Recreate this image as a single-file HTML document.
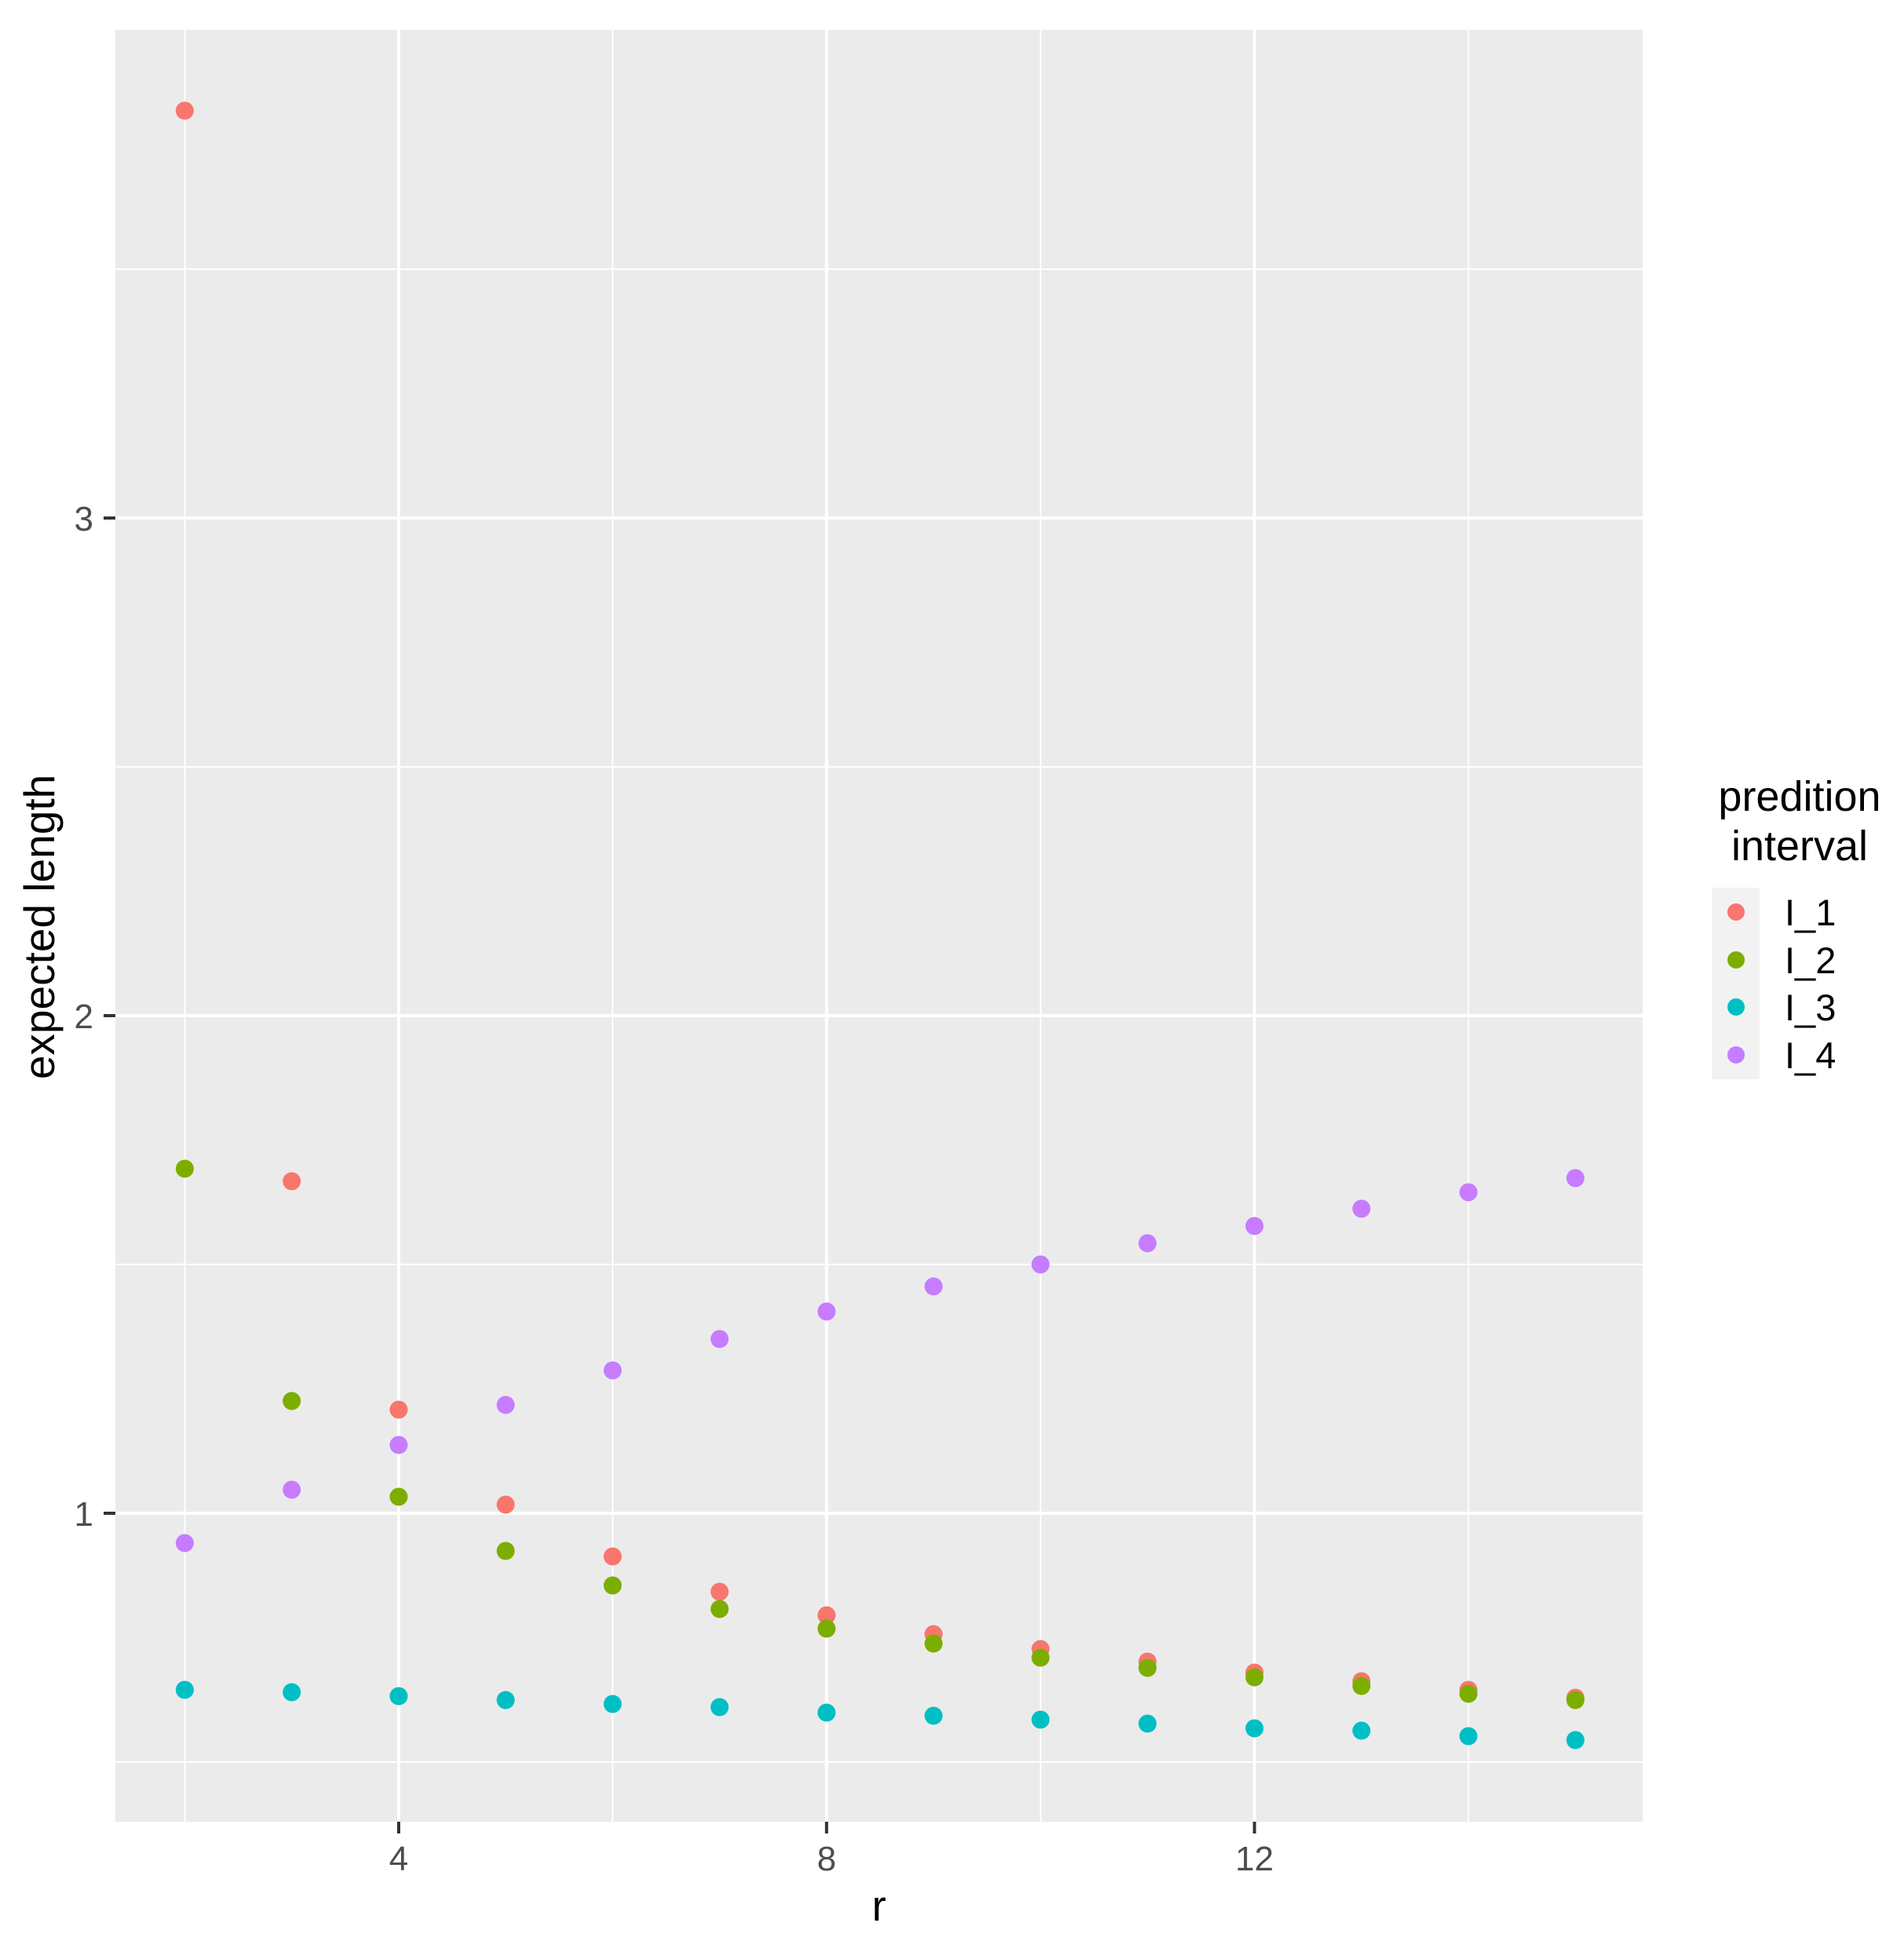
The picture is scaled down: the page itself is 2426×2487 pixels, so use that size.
<!DOCTYPE html>
<html><head><meta charset="utf-8"><style>
html,body{margin:0;padding:0;background:#fff;}
svg{display:block;font-family:"Liberation Sans",Arial,sans-serif;}
</style></head><body>
<svg width="2426" height="2487" viewBox="0 0 2426 2487" xmlns="http://www.w3.org/2000/svg">
<rect x="0" y="0" width="2426" height="2487" fill="#fff"/>
<rect x="147" y="38" width="1946" height="2283" fill="#ebebeb"/>
<g stroke="#fff" stroke-width="2">
<line x1="147" x2="2093" y1="2245" y2="2245"/>
<line x1="147" x2="2093" y1="1611" y2="1611"/>
<line x1="147" x2="2093" y1="977" y2="977"/>
<line x1="147" x2="2093" y1="343" y2="343"/>
<line y1="38" y2="2321" x1="235.4" x2="235.4"/>
<line y1="38" y2="2321" x1="780.6" x2="780.6"/>
<line y1="38" y2="2321" x1="1325.8" x2="1325.8"/>
<line y1="38" y2="2321" x1="1871" x2="1871"/>
</g>
<g stroke="#fff" stroke-width="4">
<line x1="147" x2="2093" y1="1928" y2="1928"/>
<line x1="147" x2="2093" y1="1294" y2="1294"/>
<line x1="147" x2="2093" y1="660" y2="660"/>
<line y1="38" y2="2321" x1="508" x2="508"/>
<line y1="38" y2="2321" x1="1053.2" x2="1053.2"/>
<line y1="38" y2="2321" x1="1598.4" x2="1598.4"/>
</g>
<g stroke="#333" stroke-width="4">
<line x1="132" x2="147" y1="1928" y2="1928"/>
<line x1="132" x2="147" y1="1294" y2="1294"/>
<line x1="132" x2="147" y1="660" y2="660"/>
<line y1="2321" y2="2336" x1="508" x2="508"/>
<line y1="2321" y2="2336" x1="1053.2" x2="1053.2"/>
<line y1="2321" y2="2336" x1="1598.4" x2="1598.4"/>
</g>
<g fill="#4d4d4d" font-size="44" text-anchor="end">
<text x="119" y="1944">1</text>
<text x="119" y="1310">2</text>
<text x="119" y="676">3</text>
</g>
<g fill="#4d4d4d" font-size="44" text-anchor="middle">
<text x="508" y="2383">4</text>
<text x="1053.2" y="2383">8</text>
<text x="1598.4" y="2383">12</text>
</g>
<text x="1120" y="2447" font-size="55" text-anchor="middle" fill="#000">r</text>
<text transform="translate(69,1181) rotate(-90)" font-size="55" text-anchor="middle" fill="#000">expected length</text>
<g fill="#F8766D">
<circle cx="235.4" cy="141" r="11.5"/><circle cx="371.7" cy="1505" r="11.5"/><circle cx="508" cy="1796" r="11.5"/><circle cx="644.3" cy="1917" r="11.5"/><circle cx="780.6" cy="1983" r="11.5"/><circle cx="916.9" cy="2028" r="11.5"/><circle cx="1053.2" cy="2058" r="11.5"/><circle cx="1189.5" cy="2082" r="11.5"/><circle cx="1325.8" cy="2101" r="11.5"/><circle cx="1462.1" cy="2117" r="11.5"/><circle cx="1598.4" cy="2131" r="11.5"/><circle cx="1734.7" cy="2142" r="11.5"/><circle cx="1871" cy="2153" r="11.5"/><circle cx="2007.3" cy="2163" r="11.5"/>
</g>
<g fill="#7CAE00">
<circle cx="235.4" cy="1489" r="11.5"/><circle cx="371.7" cy="1785" r="11.5"/><circle cx="508" cy="1907" r="11.5"/><circle cx="644.3" cy="1976" r="11.5"/><circle cx="780.6" cy="2020" r="11.5"/><circle cx="916.9" cy="2050" r="11.5"/><circle cx="1053.2" cy="2075" r="11.5"/><circle cx="1189.5" cy="2094" r="11.5"/><circle cx="1325.8" cy="2112" r="11.5"/><circle cx="1462.1" cy="2125" r="11.5"/><circle cx="1598.4" cy="2137" r="11.5"/><circle cx="1734.7" cy="2148" r="11.5"/><circle cx="1871" cy="2158" r="11.5"/><circle cx="2007.3" cy="2166" r="11.5"/>
</g>
<g fill="#00BFC4">
<circle cx="235.4" cy="2153" r="11.5"/><circle cx="371.7" cy="2156" r="11.5"/><circle cx="508" cy="2161" r="11.5"/><circle cx="644.3" cy="2166" r="11.5"/><circle cx="780.6" cy="2171" r="11.5"/><circle cx="916.9" cy="2175" r="11.5"/><circle cx="1053.2" cy="2182" r="11.5"/><circle cx="1189.5" cy="2186" r="11.5"/><circle cx="1325.8" cy="2191" r="11.5"/><circle cx="1462.1" cy="2196" r="11.5"/><circle cx="1598.4" cy="2202" r="11.5"/><circle cx="1734.7" cy="2205" r="11.5"/><circle cx="1871" cy="2212" r="11.5"/><circle cx="2007.3" cy="2217" r="11.5"/>
</g>
<g fill="#C77CFF">
<circle cx="235.4" cy="1966" r="11.5"/><circle cx="371.7" cy="1898" r="11.5"/><circle cx="508" cy="1841" r="11.5"/><circle cx="644.3" cy="1790" r="11.5"/><circle cx="780.6" cy="1746" r="11.5"/><circle cx="916.9" cy="1706" r="11.5"/><circle cx="1053.2" cy="1671" r="11.5"/><circle cx="1189.5" cy="1639" r="11.5"/><circle cx="1325.8" cy="1611" r="11.5"/><circle cx="1462.1" cy="1584" r="11.5"/><circle cx="1598.4" cy="1562" r="11.5"/><circle cx="1734.7" cy="1540" r="11.5"/><circle cx="1871" cy="1519" r="11.5"/><circle cx="2007.3" cy="1501" r="11.5"/>
</g>
<g font-size="54" fill="#000" text-anchor="middle">
<text x="2293" y="1033">predition</text>
<text x="2293" y="1096">interval</text>
</g>
<rect x="2181" y="1131" width="61" height="244" fill="#f2f2f2"/>
<circle cx="2212" cy="1162" r="11" fill="#F8766D"/>
<circle cx="2212" cy="1223" r="11" fill="#7CAE00"/>
<circle cx="2212" cy="1283" r="11" fill="#00BFC4"/>
<circle cx="2212" cy="1344" r="11" fill="#C77CFF"/>
<g font-size="47" fill="#000">
<text x="2274" y="1179">I_1</text>
<text x="2274" y="1240">I_2</text>
<text x="2274" y="1300">I_3</text>
<text x="2274" y="1361">I_4</text>
</g>
</svg>
</body></html>
